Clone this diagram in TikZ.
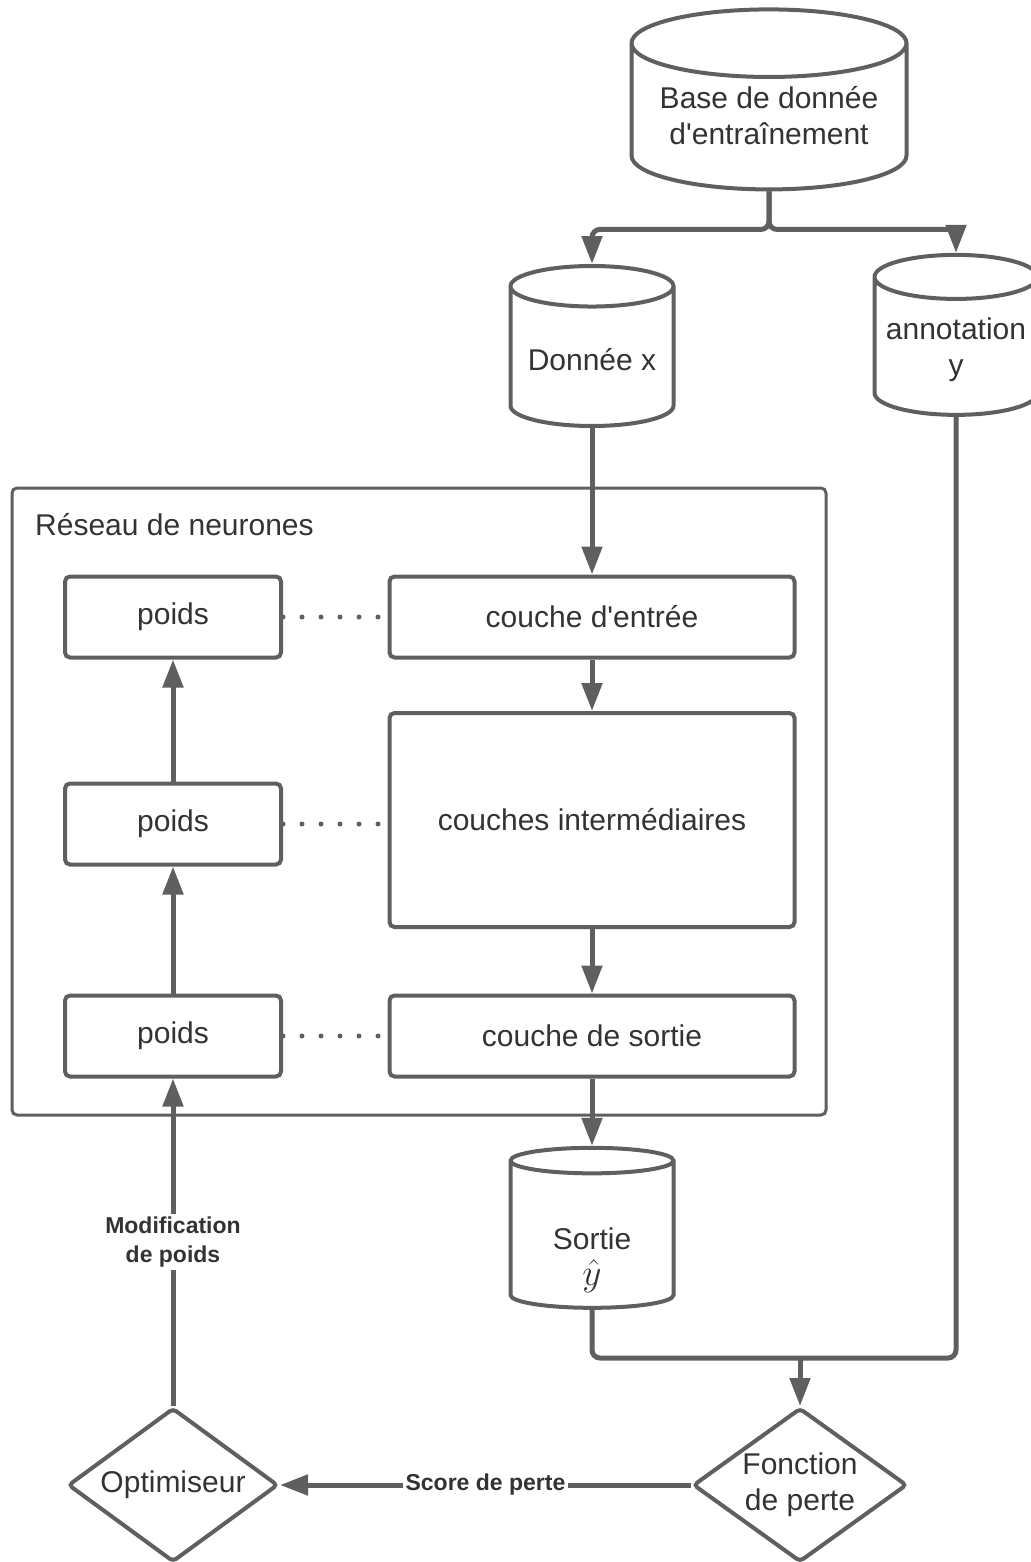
\documentclass[tikz,border=0pt]{standalone}
\usepackage{fontspec}
\setmainfont{Liberation Sans}
\usetikzlibrary{shapes.geometric, arrows.meta}
\definecolor{trait}{HTML}{5F5F5F}
\definecolor{texte}{HTML}{333333}

\begin{document}
\begin{tikzpicture}[x=1pt, y=-1pt,
    every node/.style={text=texte, font=\fontsize{30}{36}\selectfont, align=center},
    base/.style={cylinder, shape border rotate=90, aspect=0.3, draw=trait, line width=4pt, fill=white},
    couche/.style={draw=trait, line width=4pt, rounded corners=5pt, minimum width=405pt, minimum height=81pt},
    poids/.style={couche, minimum width=216pt},
    choix/.style={diamond, aspect=1.4, draw=trait, line width=4pt, rounded corners=4pt, minimum height=154pt, inner sep=0pt},
    fleche/.style={draw=trait, line width=5pt, -{Triangle[length=28pt, width=20pt]}},
    pointille/.style={draw=trait, line width=5pt, line cap=round, dash pattern=on 0pt off 19pt},
    legende/.style={font=\bfseries\fontsize{23}{29}\selectfont, fill=white, inner sep=3pt}]
    \useasboundingbox (0,0) rectangle (1030,1562);
    % bases de donnees
    \node[base, minimum width=275pt, minimum height=180pt] (bdd) at (769,121) {Base de donnée\\d\textquotesingle entraînement\\[-24pt]};
    \node[base, minimum width=163pt, minimum height=160pt] (donnee) at (592,360) {Donnée x};
    \node[base, minimum width=163pt, minimum height=160pt] (annot) at (956,350) {annotation\\y};
    \node[base, minimum width=163pt, minimum height=160pt] (sortie) at (592,1237) {\rule{0pt}{68pt}Sortie\\[0pt]\scalebox{1.5}{$\hat{y}$}};
    % reseau
    \draw[trait, line width=3pt, rounded corners=5pt] (12,488) rectangle (826,1115);
    \node[anchor=west, inner sep=0pt] (titre) at (35,525) {Réseau de neurones};
    \node[couche] (entree) at (592,617) {couche d\textquotesingle entrée};
    \node[couche, minimum height=214pt] (inter) at (592,820) {couches intermédiaires};
    \node[couche] (sortiec) at (592,1036) {couche de sortie};
    \node[poids] (p1) at (173,617) {poids};
    \node[poids] (p2) at (173,824) {poids};
    \node[poids] (p3) at (173,1036) {poids};
    \foreach \i/\j in {p1/entree, p2/inter, p3/sortiec}
        \draw[pointille] (\i.east) -- (\i.east -| \j.west);
    % perte et optimiseur
    \node[choix, minimum width=214pt] (fonction) at (800,1485) {Fonction\\de perte};
    \node[choix, minimum width=210pt] (optim) at (173,1485) {Optimiseur};
    \coordinate (jonction) at (800,1358);
    % liens
    \draw[fleche, rounded corners=8pt] (bdd.south) -- ++(0,38) -| (donnee.north);
    \draw[fleche, rounded corners=8pt] (bdd.south) -- ++(0,38) -| (annot.north);
    \draw[fleche] (donnee.south) -- (entree.north);
    \draw[fleche] (entree.south) -- (inter.north);
    \draw[fleche] (inter.south) -- (sortiec.north);
    \draw[fleche] (sortiec.south) -- (sortie.north);
    \draw[trait, line width=5pt, rounded corners=8pt] (sortie.south) |- (jonction);
    \draw[trait, line width=5pt, rounded corners=8pt] (annot.south) |- (jonction);
    \draw[fleche] (jonction) -- (fonction.north);
    \draw[fleche] (p3.north) -- (p2.south);
    \draw[fleche] (p2.north) -- (p1.south);
    \draw[fleche] (optim.north) -- node[legende] {Modification\\de poids} (p3.south);
    \draw[fleche] (fonction.west) -- node[legende] {Score de perte} (optim.east);
\end{tikzpicture}
\end{document}
